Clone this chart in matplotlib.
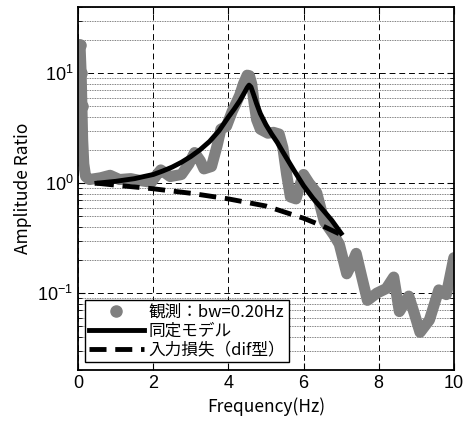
import matplotlib
matplotlib.use('Agg')
import matplotlib.pyplot as plt
from matplotlib.lines import Line2D
from matplotlib.ticker import LogLocator, NullFormatter

plt.rcParams['font.family'] = ['Noto Sans CJK JP', 'DejaVu Sans']
plt.rcParams['mathtext.fontset'] = 'custom'
plt.rcParams['mathtext.rm'] = 'Liberation Sans'

obs_freq = [0.0, 0.05, 0.08, 0.10, 0.12, 0.15, 0.20, 0.30, 0.60, 0.85, 1.10, 1.40,
            1.70, 1.95, 2.10, 2.20, 2.45, 2.75, 2.95, 3.10, 3.25, 3.35, 3.55, 3.70,
            3.80, 3.95, 4.10, 4.20, 4.30, 4.40, 4.50, 4.56, 4.62, 4.68, 4.75, 4.85,
            5.05, 5.20, 5.35, 5.45, 5.55, 5.65, 5.80, 5.92, 6.00, 6.15, 6.35, 6.55,
            6.80, 6.95, 7.15, 7.30, 7.40, 7.55, 7.70, 7.95, 8.20, 8.40, 8.55, 8.80,
            8.95, 9.10, 9.35, 9.60, 9.80, 10.0]
obs_amp = [18.0, 18.0, 10.0, 5.0, 2.5, 1.5, 1.15, 1.08, 1.12, 1.18, 1.08, 1.10,
           1.05, 1.02, 1.20, 1.32, 1.15, 1.20, 1.50, 1.90, 1.60, 1.35, 1.42, 2.2,
           3.1, 3.3, 4.5, 5.3, 6.3, 8.0, 9.6, 9.5, 8.0, 5.5, 3.8, 3.1,
           2.85, 2.9, 2.8, 2.1, 1.2, 0.75, 0.72, 1.0, 1.20, 1.00, 0.82, 0.45,
           0.34, 0.28, 0.15, 0.19, 0.23, 0.14, 0.086, 0.10, 0.11, 0.14, 0.068, 0.094,
           0.065, 0.044, 0.057, 0.107, 0.097, 0.21]

# identified model
model_freq = [0.5, 0.75, 1.0, 1.25, 1.5, 1.75, 2.0, 2.25, 2.5, 2.75, 3.0, 3.25,
              3.5, 3.75, 4.0, 4.15, 4.3, 4.42, 4.5, 4.55, 4.6, 4.67, 4.75, 4.85,
              5.0, 5.15, 5.3, 5.5, 5.75, 6.0, 6.25, 6.5, 6.75, 7.0]
model_amp = [1.0, 1.02, 1.04, 1.07, 1.1, 1.15, 1.2, 1.29, 1.4, 1.55, 1.75, 2.02,
             2.4, 3.0, 4.0, 4.7, 5.6, 6.6, 7.4, 7.8, 7.5, 6.4, 5.3, 4.3,
             3.4, 2.8, 2.35, 1.8, 1.3, 0.95, 0.73, 0.58, 0.46, 0.35]

# input loss (dif type)
loss_freq = [0.5, 1.0, 2.0, 3.0, 4.0, 5.0, 6.0, 6.5, 7.0]
loss_amp = [1.0, 0.96, 0.89, 0.81, 0.72, 0.62, 0.48, 0.41, 0.34]

fig = plt.figure(figsize=(4.65, 4.28), dpi=100)
ax = fig.add_axes([0.168, 0.1355, 0.808, 0.848])

ax.plot(obs_freq, obs_amp, color='#808080', lw=8, solid_joinstyle='round',
        solid_capstyle='round', marker='o', ms=8, mec='#808080', mfc='#808080',
        markevery=[0, 1, 2, 3], zorder=2)
ax.plot(model_freq, model_amp, color='black', lw=3.5, zorder=3)
ax.plot(loss_freq, loss_amp, color='black', lw=3.5, ls=(0, (3.5, 1.8)), zorder=3)

ax.set_yscale('log')
ax.set_xlim(0, 10)
ax.set_ylim(0.02, 40)
ax.set_xticks([0, 2, 4, 6, 8, 10])
ax.yaxis.set_major_locator(LogLocator(base=10, numticks=10))
ax.yaxis.set_minor_locator(LogLocator(base=10, subs=range(2, 10), numticks=10))
ax.yaxis.set_minor_formatter(NullFormatter())

ax.grid(True, which='major', axis='both', color='black', ls=(0, (6, 4)), lw=0.7)
ax.grid(True, which='minor', axis='y', color='#555555', ls=(0, (1, 1)), lw=0.6)
ax.set_axisbelow(True)

ax.tick_params(which='both', direction='in', top=True, right=True, labelsize=13)
ax.tick_params(which='major', length=5)
ax.tick_params(which='minor', length=3)
for t in ax.get_xticklabels() + ax.get_yticklabels():
    t.set_family('Liberation Sans')
for s in ax.spines.values():
    s.set_linewidth(1.3)

ax.set_xlabel('Frequency(Hz)', fontsize=12.5)
ax.set_ylabel('Amplitude Ratio', fontsize=12.5)

handles = [
    Line2D([0], [0], ls='none', marker='o', color='#808080', ms=8),
    Line2D([0], [0], color='black', lw=3.5),
    Line2D([0], [0], color='black', lw=3.5, ls=(0, (3.5, 1.8))),
]
labels = ['観測：bw=0.20Hz', '同定モデル', '入力損失（dif型）']
leg = ax.legend(handles, labels, loc='lower left', bbox_to_anchor=(0.019, 0.022),
                fontsize=12, handlelength=3.3, handletextpad=0.3,
                borderpad=0.2, labelspacing=0.12, fancybox=False,
                framealpha=1, edgecolor='black', borderaxespad=0)
leg.get_frame().set_linewidth(1.0)

fig.savefig('out.png', dpi=100)
